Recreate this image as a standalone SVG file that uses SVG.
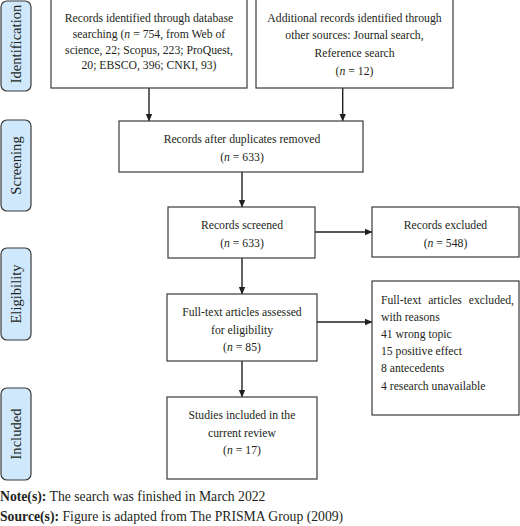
<svg xmlns="http://www.w3.org/2000/svg" width="520" height="526" viewBox="0 0 520 526">
<style>
.box{fill:#fff;stroke:#3a3a3a;stroke-width:1.2}
.lab{fill:#cfe8fb;stroke:#3a3a3a;stroke-width:1.2}
text{font-family:"Liberation Serif","Times New Roman",serif;fill:#231f20}
.t{font-size:11.7px;text-anchor:middle}
.tl{font-size:11.7px}
.side{font-size:14.6px;text-anchor:middle}
.note{font-size:13.7px}
.c{stroke:#231f20;stroke-width:1.4;fill:none;marker-end:url(#ah)}
</style>
<defs>
<marker id="ah" markerWidth="8" markerHeight="8" refX="7" refY="4" orient="auto" markerUnits="userSpaceOnUse">
<path d="M0,0.8 L7.5,4 L0,7.2 Z" fill="#231f20"/>
</marker>
</defs>
<rect width="520" height="526" fill="#fff"/>
<g id="lab-identification"><rect class="lab" x="1" y="1" width="30" height="90" rx="6"/><text class="side" transform="translate(21,44) rotate(-90)">Identification</text></g>
<g id="lab-screening"><rect class="lab" x="1" y="120" width="30" height="91" rx="6"/><text class="side" transform="translate(21,165.5) rotate(-90)">Screening</text></g>
<g id="lab-eligibility"><rect class="lab" x="1" y="248" width="30" height="92" rx="6"/><text class="side" transform="translate(21,294) rotate(-90)">Eligibility</text></g>
<g id="lab-included"><rect class="lab" x="1" y="388" width="30" height="92" rx="6"/><text class="side" transform="translate(21,434) rotate(-90)">Included</text></g>
<g id="connectors">
<line class="c" x1="149" y1="88" x2="149" y2="121"/>
<line class="c" x1="342.7" y1="88" x2="342.7" y2="121"/>
<line class="c" x1="242" y1="172" x2="242" y2="207"/>
<line class="c" x1="315" y1="232" x2="372" y2="232"/>
<line class="c" x1="242" y1="258" x2="242" y2="294"/>
<line class="c" x1="317" y1="322" x2="372" y2="322"/>
<line class="c" x1="242" y1="361" x2="242" y2="397"/>
</g>
<g id="n-db"><rect class="box" x="51" y="-1" width="196" height="89"/>
<text class="t" x="149" y="22">Records identified through database</text>
<text class="t" x="149" y="38">searching (<tspan font-style="italic">n</tspan> = 754, from Web of</text>
<text class="t" x="149" y="53.5">science, 22; Scopus, 223; ProQuest,</text>
<text class="t" x="149" y="69">20; EBSCO, 396; CNKI, 93)</text></g>
<g id="n-other"><rect class="box" x="256" y="-1" width="197" height="89"/>
<text class="t" x="354.5" y="22">Additional records identified through</text>
<text class="t" x="354.5" y="38.5">other sources: Journal search,</text>
<text class="t" x="354.5" y="57">Reference search</text>
<text class="t" x="354.5" y="74.5">(<tspan font-style="italic">n</tspan> = 12)</text></g>
<g id="n-dup"><rect class="box" x="119" y="121" width="244" height="51"/>
<text class="t" x="242" y="143">Records after duplicates removed</text>
<text class="t" x="242" y="161">(<tspan font-style="italic">n</tspan> = 633)</text></g>
<g id="n-screened"><rect class="box" x="168" y="207" width="147" height="51"/>
<text class="t" x="242" y="229">Records screened</text>
<text class="t" x="242" y="247">(<tspan font-style="italic">n</tspan> = 633)</text></g>
<g id="n-excluded"><rect class="box" x="372" y="207" width="147" height="50"/>
<text class="t" x="445.5" y="229">Records excluded</text>
<text class="t" x="445.5" y="247">(<tspan font-style="italic">n</tspan> = 548)</text></g>
<g id="n-fulltext"><rect class="box" x="167" y="294" width="150" height="67"/>
<text class="t" x="242" y="316">Full-text articles assessed</text>
<text class="t" x="242" y="333.5">for eligibility</text>
<text class="t" x="242" y="351">(<tspan font-style="italic">n</tspan> = 85)</text></g>
<g id="n-reasons"><rect class="box" x="372" y="281" width="147" height="134"/>
<text class="tl" x="381" y="304" word-spacing="4">Full-text articles excluded,</text>
<text class="tl" x="381" y="321">with reasons</text>
<text class="tl" x="381" y="338">41 wrong topic</text>
<text class="tl" x="381" y="355">15 positive effect</text>
<text class="tl" x="381" y="372">8 antecedents</text>
<text class="tl" x="381" y="389.5">4 research unavailable</text></g>
<g id="n-included"><rect class="box" x="167" y="397" width="150" height="82"/>
<text class="t" x="242" y="419">Studies included in the</text>
<text class="t" x="242" y="437">current review</text>
<text class="t" x="242" y="454">(<tspan font-style="italic">n</tspan> = 17)</text></g>
<g id="notes">
<text class="note" x="0" y="501"><tspan font-weight="bold">Note(s):</tspan> The search was finished in March 2022</text>
<text class="note" x="0" y="521"><tspan font-weight="bold">Source(s):</tspan> Figure is adapted from The PRISMA Group (2009)</text>
</g>
</svg>
